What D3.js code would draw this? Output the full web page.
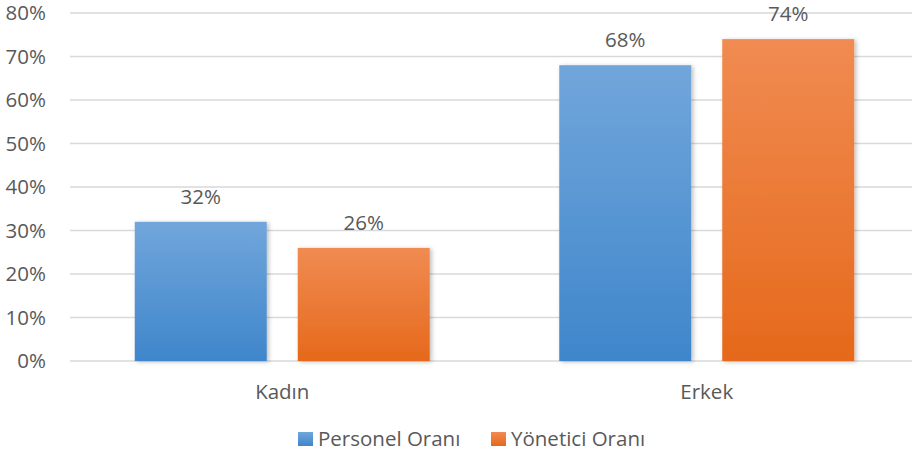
<script src="https://d3js.org/d3.v7.min.js"></script>
<style>
  body { margin: 0; background: #fff; }
  text { font-family: "Open Sans", "Liberation Sans", sans-serif; fill: #595959; }
</style>
<div id="vis"></div>
<script>
  var categories = ['Kadın', 'Erkek'];
  var seriesNames = ['Personel Oranı', 'Yönetici Oranı'];
  var personel = [32, 68];
  var yonetici = [26, 74];
  var yTicks = [0, 10, 20, 30, 40, 50, 60, 70, 80];

  var W = 912, H = 460;
  var FS = '20.5px';
  var svg = d3.select('#vis').append('svg').attr('width', W).attr('height', H);

  var defs = svg.append('defs');
  function grad(id, top, bottom) {
    var g = defs.append('linearGradient').attr('id', id)
      .attr('x1', 0).attr('y1', 0).attr('x2', 0).attr('y2', 1);
    g.append('stop').attr('offset', '0%').attr('stop-color', top);
    g.append('stop').attr('offset', '100%').attr('stop-color', bottom);
  }
  grad('gBlue', '#71a6db', '#3f86cb');
  grad('gOrange', '#f18b52', '#e5691b');
  var f = defs.append('filter').attr('id', 'shadow').attr('x', '-20%').attr('y', '-20%').attr('width', '140%').attr('height', '140%');
  f.append('feDropShadow').attr('dx', 2).attr('dy', 1).attr('stdDeviation', 2)
    .attr('flood-color', '#000').attr('flood-opacity', 0.25);

  var colors = ['url(#gBlue)', 'url(#gOrange)'];

  var y = d3.scaleLinear().domain([0, 80]).range([361, 13]);
  var x0 = d3.scaleBand().domain(categories).range([70, 919]).paddingInner(0).paddingOuter(0);
  var groupW = 295;
  var x1 = d3.scaleBand().domain(seriesNames).range([0, groupW]).paddingInner(31 / 163).paddingOuter(0);

  // gridlines
  svg.append('g').selectAll('line').data(yTicks).enter().append('line')
    .attr('x1', 70).attr('x2', W)
    .attr('y1', function(d) { return y(d); }).attr('y2', function(d) { return y(d); })
    .attr('stroke', '#d9d9d9').attr('stroke-width', 1.5);

  // y labels
  svg.append('g').selectAll('text').data(yTicks).enter().append('text')
    .attr('x', 46).attr('y', function(d) { return y(d); })
    .attr('dy', '0.35em').attr('text-anchor', 'end')
    .style('font-size', FS)
    .text(function(d) { return d + '%'; });

  var data = [];
  categories.forEach(function(c, i) {
    data.push({ cat: c, s: 0, v: personel[i] });
    data.push({ cat: c, s: 1, v: yonetici[i] });
  });

  function bx(d) {
    return x0(d.cat) + (x0.bandwidth() - groupW) / 2 + x1(seriesNames[d.s]);
  }

  svg.append('g').selectAll('rect').data(data).enter().append('rect')
    .attr('x', bx)
    .attr('y', function(d) { return y(d.v); })
    .attr('width', x1.bandwidth())
    .attr('height', function(d) { return y(0) - y(d.v); })
    .attr('fill', function(d) { return colors[d.s]; })
    .attr('filter', 'url(#shadow)');

  svg.append('g').selectAll('text').data(data).enter().append('text')
    .attr('x', function(d) { return bx(d) + x1.bandwidth() / 2; })
    .attr('y', function(d) { return y(d.v) - 18; })
    .attr('text-anchor', 'middle')
    .style('font-size', FS)
    .text(function(d) { return d.v + '%'; });

  // x labels
  svg.append('g').selectAll('text').data(categories).enter().append('text')
    .attr('x', function(d) { return x0(d) + x0.bandwidth() / 2; })
    .attr('y', 399)
    .attr('text-anchor', 'middle')
    .style('font-size', FS)
    .text(function(d) { return d; });

  // legend
  var legX = [298, 491];
  var leg = svg.append('g').selectAll('g').data(seriesNames).enter().append('g')
    .attr('transform', function(d, i) { return 'translate(' + legX[i] + ',432)'; });
  leg.append('rect').attr('width', 15).attr('height', 14)
    .attr('fill', function(d, i) { return colors[i]; });
  leg.append('text').attr('x', 20).attr('y', 7).attr('dy', '0.35em')
    .style('font-size', FS)
    .text(function(d) { return d; });
</script>
